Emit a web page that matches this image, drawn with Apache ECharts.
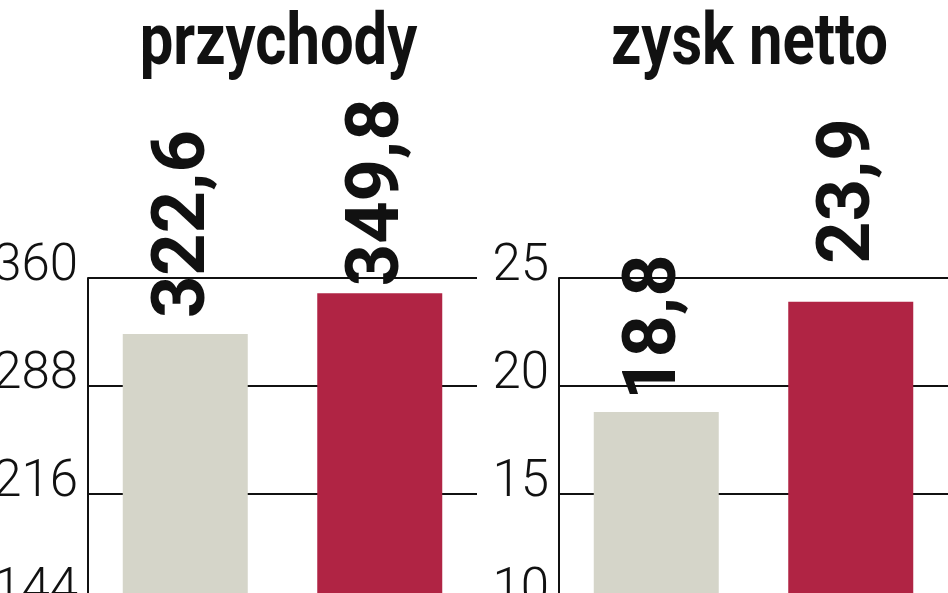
<!DOCTYPE html>
<html>
<head>
<meta charset="utf-8">
<script src="https://cdn.jsdelivr.net/npm/echarts@6/dist/echarts.min.js"></script>
<style>
html,body{margin:0;padding:0;background:#fff;}
#c{width:948px;height:593px;}
</style>
</head>
<body>
<div id="c"></div>
<script>
// ---- data ----
const panelTitles = ['przychody', 'zysk netto'];
const categories = ['poprzedni okres', 'bieżący okres'];
const revenue = [322.6, 349.8];
const netProfit = [18.8, 23.9];
const revenueTicks = [144, 360, 72];   // min, max, interval
const profitTicks = [10, 25, 5];

// ---- style ----
const barColors = ['#d5d5c9', '#b02444'];
const labelGaps = [[16, 7], [12, 38]];
const gridLeft = [88, 559];
const gridWidth = 389;
const font = 'Roboto, "DejaVu Sans Condensed", sans-serif';

function items(vals, gaps) {
  return vals.map((v, i) => ({
    value: v,
    itemStyle: { color: barColors[i] },
    label: { distance: gaps[i] }
  }));
}

function yAxis(idx, t) {
  return {
    type: 'value', gridIndex: idx, min: t[0], max: t[1], interval: t[2],
    axisLine: { show: true, lineStyle: { color: '#111', width: 2 } },
    axisTick: { show: false },
    splitLine: { show: true, lineStyle: { color: '#111', width: 2 } },
    axisLabel: {
      margin: 10, fontSize: 51, fontWeight: 300, color: '#111', fontFamily: font,
      verticalAlign: 'bottom', lineHeight: 22
    }
  };
}
function xAxis(idx) {
  return {
    type: 'category', gridIndex: idx, data: categories,
    axisLine: { show: false }, axisTick: { show: false }, axisLabel: { show: false },
    splitLine: { show: false }
  };
}
const barLabel = {
  show: true, position: 'top', rotate: 90, align: 'left', verticalAlign: 'middle',
  fontSize: 74, fontWeight: 'bold', color: '#111', fontFamily: font,
  formatter: p => p.value.toFixed(1).replace('.', ',')
};

const chart = echarts.init(document.getElementById('c'), null, { renderer: 'canvas' });
chart.setOption({
  animation: false,
  backgroundColor: '#fff',
  graphic: panelTitles.map((t, i) => ({
    type: 'text',
    x: gridLeft[i] + gridWidth / 2 - 4,
    y: 46,
    scaleX: 0.83,
    style: {
      text: t, fill: '#111', align: 'center', verticalAlign: 'middle',
      font: 'bold 72px ' + font
    }
  })),
  grid: gridLeft.map(l => ({
    left: l, width: gridWidth, top: 278, height: 324, outerBoundsMode: 'none', containLabel: false
  })),
  xAxis: [xAxis(0), xAxis(1)],
  yAxis: [yAxis(0, revenueTicks), yAxis(1, profitTicks)],
  series: [
    { type: 'bar', xAxisIndex: 0, yAxisIndex: 0, barWidth: 125, data: items(revenue, labelGaps[0]), label: barLabel },
    { type: 'bar', xAxisIndex: 1, yAxisIndex: 1, barWidth: 125, data: items(netProfit, labelGaps[1]), label: barLabel }
  ]
});
</script>
</body>
</html>
